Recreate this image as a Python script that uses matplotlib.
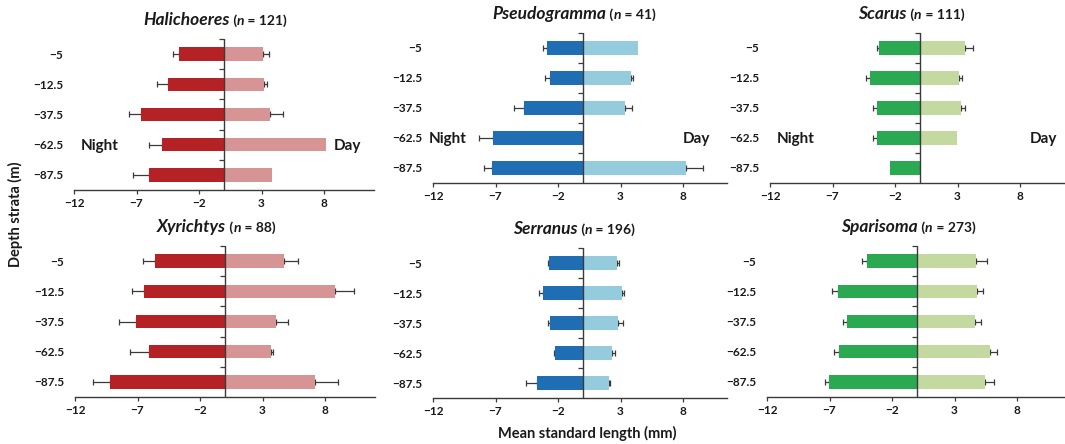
import numpy as np
import matplotlib
matplotlib.use("Agg")
import matplotlib.pyplot as plt
from matplotlib.offsetbox import TextArea, HPacker, AnchoredOffsetbox
from matplotlib.transforms import blended_transform_factory

plt.rcParams['font.family'] = ['Lato', 'DejaVu Sans']

# ---------------- data ----------------
depths = ["\u22125", "\u221212.5", "\u221237.5", "\u221262.5", "\u221287.5"]
xticks = [-12, -7, -2, 3, 8]

genera = ["Halichoeres", "Pseudogramma", "Scarus", "Xyrichtys", "Serranus", "Sparisoma"]
n_fish = [121, 41, 111, 88, 196, 273]

# mean standard length (mm); night plotted to the left (negative)
halichoeres_night = [3.6, 4.45, 6.67, 5.0, 6.03]
halichoeres_night_se = [0.45, 0.95, 0.9, 1.04, 1.22]
halichoeres_day = [3.15, 3.23, 3.65, 8.16, 3.87]
halichoeres_day_se = [0.48, 0.24, 1.04, 0.0, 0.0]

pseudogramma_night = [2.85, 2.67, 4.75, 7.17, 7.25]
pseudogramma_night_se = [0.32, 0.35, 0.77, 1.17, 0.7]
pseudogramma_day = [4.4, 3.87, 3.39, 0.0, 8.21]
pseudogramma_day_se = [0.0, 0.13, 0.56, 0.0, 1.39]

scarus_night = [3.31, 3.97, 3.41, 3.41, 2.43]
scarus_night_se = [0.13, 0.32, 0.32, 0.37, 0.0]
scarus_day = [3.63, 3.15, 3.31, 2.96, 0.0]
scarus_day_se = [0.58, 0.24, 0.29, 0.0, 0.0]

xyrichtys_night = [5.57, 6.48, 7.15, 6.11, 9.17]
xyrichtys_night_se = [0.96, 0.99, 1.3, 1.47, 1.39]
xyrichtys_day = [4.69, 8.77, 4.11, 3.68, 7.23]
xyrichtys_day_se = [1.17, 1.55, 0.96, 0.19, 1.79]

serranus_night = [2.75, 3.2, 2.61, 2.21, 3.68]
serranus_night_se = [0.08, 0.35, 0.16, 0.11, 0.85]
serranus_day = [2.69, 3.09, 2.83, 2.32, 2.05]
serranus_day_se = [0.16, 0.21, 0.35, 0.21, 0.11]

sparisoma_night = [4.03, 6.35, 5.57, 6.27, 7.01]
sparisoma_night_se = [0.35, 0.43, 0.35, 0.35, 0.32]
sparisoma_day = [4.75, 4.8, 4.67, 5.81, 5.41]
sparisoma_day_se = [0.88, 0.51, 0.43, 0.56, 0.77]

night_vals = [halichoeres_night, pseudogramma_night, scarus_night,
              xyrichtys_night, serranus_night, sparisoma_night]
night_errs = [halichoeres_night_se, pseudogramma_night_se, scarus_night_se,
              xyrichtys_night_se, serranus_night_se, sparisoma_night_se]
day_vals = [halichoeres_day, pseudogramma_day, scarus_day,
            xyrichtys_day, serranus_day, sparisoma_day]
day_errs = [halichoeres_day_se, pseudogramma_day_se, scarus_day_se,
            xyrichtys_day_se, serranus_day_se, sparisoma_day_se]

night_colors = ["#B52226", "#1F6DB3", "#2AA852", "#B52226", "#1F6DB3", "#2AA852"]
day_colors = ["#D69494", "#94CCDD", "#C4D9A0", "#D69494", "#94CCDD", "#C4D9A0"]

# ---------------- layout (pixels) ----------------
W, H = 1065, 444
fig = plt.figure(figsize=(W / 100, H / 100), dpi=100)
# left, top, bottom (px from top), xmax
boxes = [(74, 39, 190, 12.0), (433, 33, 183, 11.5), (770, 33, 183, 11.6),
         (75, 246, 397, 12.0), (433, 248, 398, 11.5), (767, 246, 397, 11.84)]
PX_PER_UNIT = 12.5

AX_COLOR = "#3a3a3a"
TXT = "#1a1a1a"

for i in range(6):
    left, top, bottom, xmax = boxes[i]
    width = (xmax + 12) * PX_PER_UNIT
    ax = fig.add_axes([left / W, (H - bottom) / H, width / W, (bottom - top) / H])
    y = np.arange(len(depths))
    nv = -np.array(night_vals[i])
    ne = np.array(night_errs[i])
    dv = np.array(day_vals[i])
    de = np.array(day_errs[i])

    ax.barh(y, nv, height=0.45, color=night_colors[i], zorder=3)
    ax.barh(y, dv, height=0.45, color=day_colors[i], zorder=3)

    m = ne > 0
    ax.errorbar(nv[m], y[m], xerr=[ne[m], np.zeros(m.sum())], fmt='none',
                ecolor=AX_COLOR, elinewidth=0.9, capsize=2.2, capthick=0.9, zorder=2)
    m = de > 0
    ax.errorbar(dv[m], y[m], xerr=[np.zeros(m.sum()), de[m]], fmt='none',
                ecolor=AX_COLOR, elinewidth=0.9, capsize=2.2, capthick=0.9, zorder=2)

    ax.set_xlim(-12, xmax)
    ax.set_ylim(len(depths) - 0.5, -0.5)
    ax.axvline(0, color=AX_COLOR, lw=1.0, zorder=4)
    bounds = np.arange(len(depths)) - 0.5
    ax.plot(np.zeros_like(bounds), bounds, ls='none', marker=0, ms=3.5,
            mew=0.9, color=AX_COLOR, clip_on=False, zorder=4)

    ax.set_yticks(y)
    ax.set_yticklabels(depths)
    ax.tick_params(axis='y', length=0, pad=8, labelsize=8.5, labelcolor=TXT)
    for t in ax.get_yticklabels():
        t.set_fontweight('bold')
    ax.set_xticks(xticks)
    ax.set_xticklabels(["\u2212" + str(-v) if v < 0 else str(v) for v in xticks])
    ax.tick_params(axis='x', length=3, width=0.9, color=AX_COLOR, pad=3,
                   labelsize=8.5, labelcolor=TXT)
    for t in ax.get_xticklabels():
        t.set_fontweight('bold')
    for s in ['top', 'right', 'left']:
        ax.spines[s].set_visible(False)
    ax.spines['bottom'].set_color(AX_COLOR)
    ax.spines['bottom'].set_linewidth(1.0)
    ax.set_facecolor('none')

    # title
    tp = dict(color=TXT, fontweight='bold')
    parts = [TextArea(genera[i], textprops=dict(fontsize=12.5, fontstyle='italic', **tp)),
             TextArea(" (", textprops=dict(fontsize=10, **tp)),
             TextArea("n", textprops=dict(fontsize=10, fontstyle='italic', **tp)),
             TextArea(" = %d)" % n_fish[i], textprops=dict(fontsize=10, **tp))]
    box = HPacker(children=parts, align='baseline', pad=0, sep=0)
    trans = blended_transform_factory(ax.transData, ax.transAxes)
    ab = AnchoredOffsetbox(loc='center', child=box, pad=0, borderpad=0, frameon=False,
                           bbox_to_anchor=(-0.7, 1.0 + 19 / (bottom - top)),
                           bbox_transform=trans)
    ax.add_artist(ab)

    if i < 3:
        ax.text(-11.5 if i != 1 else -12.3, 3.05, "Night", fontsize=11, fontweight='bold',
                color=TXT, ha='left', va='center', clip_on=False)
        ax.text(11.0 if i != 1 else 10.2, 3.05, "Day", fontsize=11, fontweight='bold',
                color=TXT, ha='right', va='center', clip_on=False)

fig.text(587 / W, 1 - 433 / H, "Mean standard length (mm)", ha='center', va='center',
         fontsize=10.5, fontweight='bold', color=TXT)
fig.text(15 / W, 1 - 214 / H, "Depth strata (m)", ha='center', va='center', rotation=90,
         fontsize=10.5, fontweight='bold', color=TXT)

fig.savefig("out.png", dpi=100)
